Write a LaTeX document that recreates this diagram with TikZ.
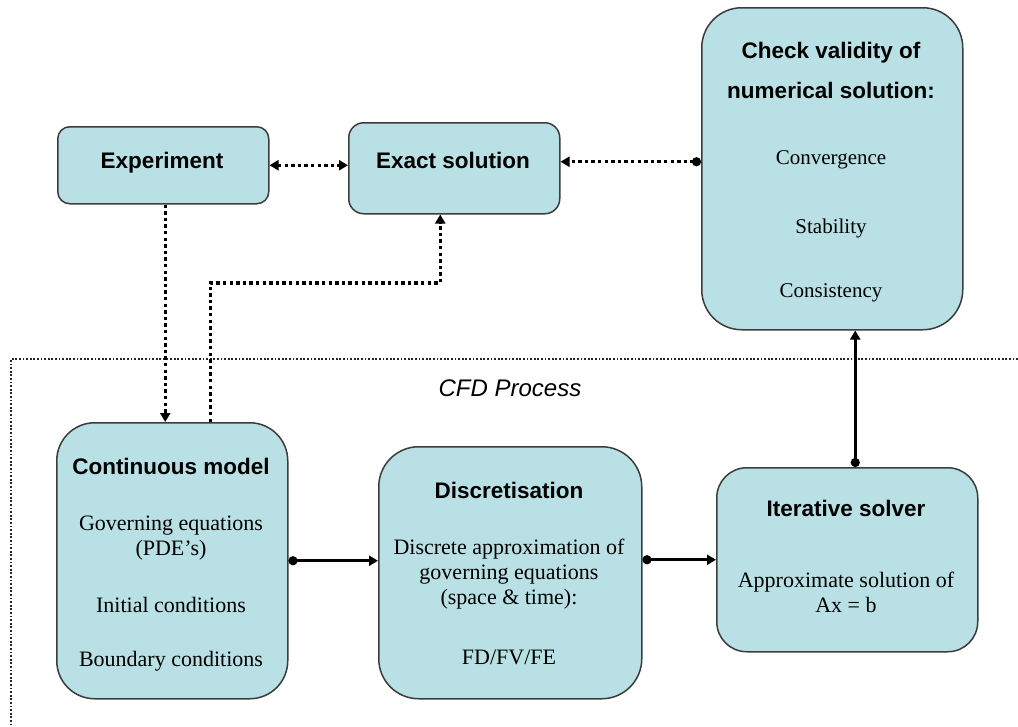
\documentclass[tikz,border=0pt]{standalone}
\usepackage{fontspec}
\setmainfont{Liberation Serif}
\setsansfont{Liberation Sans}
\usetikzlibrary{arrows.meta}
\definecolor{boxfill}{RGB}{185,224,228}
\definecolor{boxline}{RGB}{60,60,60}
\tikzset{
  box/.style={draw=boxline, line width=1.5pt, fill=boxfill, inner sep=0pt, anchor=north west},
  head/.style={font=\fontsize{22.5}{27}\selectfont\sffamily\bfseries, align=center, inner sep=0pt},
  body/.style={font=\fontsize{22}{25}\selectfont, align=center, inner sep=0pt},
  smallbody/.style={font=\fontsize{21}{25}\selectfont, align=center, inner sep=0pt},
  dotline/.style={line width=3.4pt, dash pattern=on 3.4pt off 3.2pt},
  solidline/.style={line width=3.2pt},
  tri/.tip={Triangle[length=9pt,width=10pt]},
  dot/.tip={Circle[length=9pt]},
  boundary/.style={line width=1.6pt, dash pattern=on 1.8pt off 1.8pt, black!85}
}
\begin{document}
\begin{tikzpicture}[x=1pt,y=-1pt]
\useasboundingbox (0,0) rectangle (1018,726);
% boxes
\node[box, rounded corners=12pt, minimum width=211pt, minimum height=77pt] (exp) at (57,126) {};
\node[box, rounded corners=15pt, minimum width=211pt, minimum height=91pt] (exact) at (348,122) {};
\node[box, rounded corners=40pt, minimum width=261pt, minimum height=322pt] (check) at (701,7) {};
\node[box, rounded corners=38pt, minimum width=231pt, minimum height=276pt] (cont) at (56,422) {};
\node[box, rounded corners=40pt, minimum width=263pt, minimum height=252pt] (disc) at (378,446) {};
\node[box, rounded corners=30pt, minimum width=261pt, minimum height=184pt] (iter) at (716,467) {};
% texts
\node[head] (texp) at (162,163) {Experiment};
\node[head] (texact) at (453,160) {Exact solution};
\node[head] (tcheck1) at (831,53) {Check validity of};
\node[head] (tcheck2) at (831,90) {numerical solution:};
\node[smallbody] (tconv) at (831,160) {Convergence};
\node[smallbody] (tstab) at (831,228) {Stability};
\node[smallbody] (tcons) at (831,293) {Consistency};
\node[head] (tcont) at (171,466) {Continuous model};
\node[body] (tgov) at (171,538) {Governing equations\\(PDE’s)};
\node[body] (tinit) at (171,605) {Initial conditions};
\node[body] (tbound) at (171,661) {Boundary conditions};
\node[head] (tdisc) at (509,490) {Discretisation};
\node[body] (tdapp) at (509,574) {Discrete approximation of\\governing equations\\(space \& time):};
\node[body] (tfd) at (509,657) {FD/FV/FE};
\node[head] (titer) at (846,508) {Iterative solver};
\node[body] (tapp) at (846,592) {Approximate solution of\\Ax = b};
\node[font=\fontsize{24}{28}\selectfont\sffamily\itshape, inner sep=0pt] (tcfd) at (510,388) {CFD Process};
% boundary of CFD process
\draw[boundary] (1018,359) -- (11,359) -- (11,726);
% connectors
\draw[dotline, {tri}-{tri}] (exp.east) -- (exp.east -| exact.west);
\draw[dotline, {dot}-{tri}] ([yshift=7pt]check.west) -- ([yshift=7pt]check.west -| exact.east);
\draw[dotline, -{tri}] ([xshift=2pt]exp.south) -- ([xshift=2pt]exp.south |- cont.north);
\draw[dotline, -{tri}] ([xshift=38pt]cont.north) -- ++(0,-139) -| ([xshift=-14pt]exact.south);
\draw[solidline, {dot}-{tri}] (cont.east) -- (cont.east -| disc.west);
\draw[solidline, {dot}-{tri}] (iter.west -| disc.east) -- (iter.west);
\draw[solidline, {dot}-{tri}] ([xshift=8pt]iter.north) -- ([xshift=8pt]iter.north |- check.south);
\end{tikzpicture}
\end{document}
